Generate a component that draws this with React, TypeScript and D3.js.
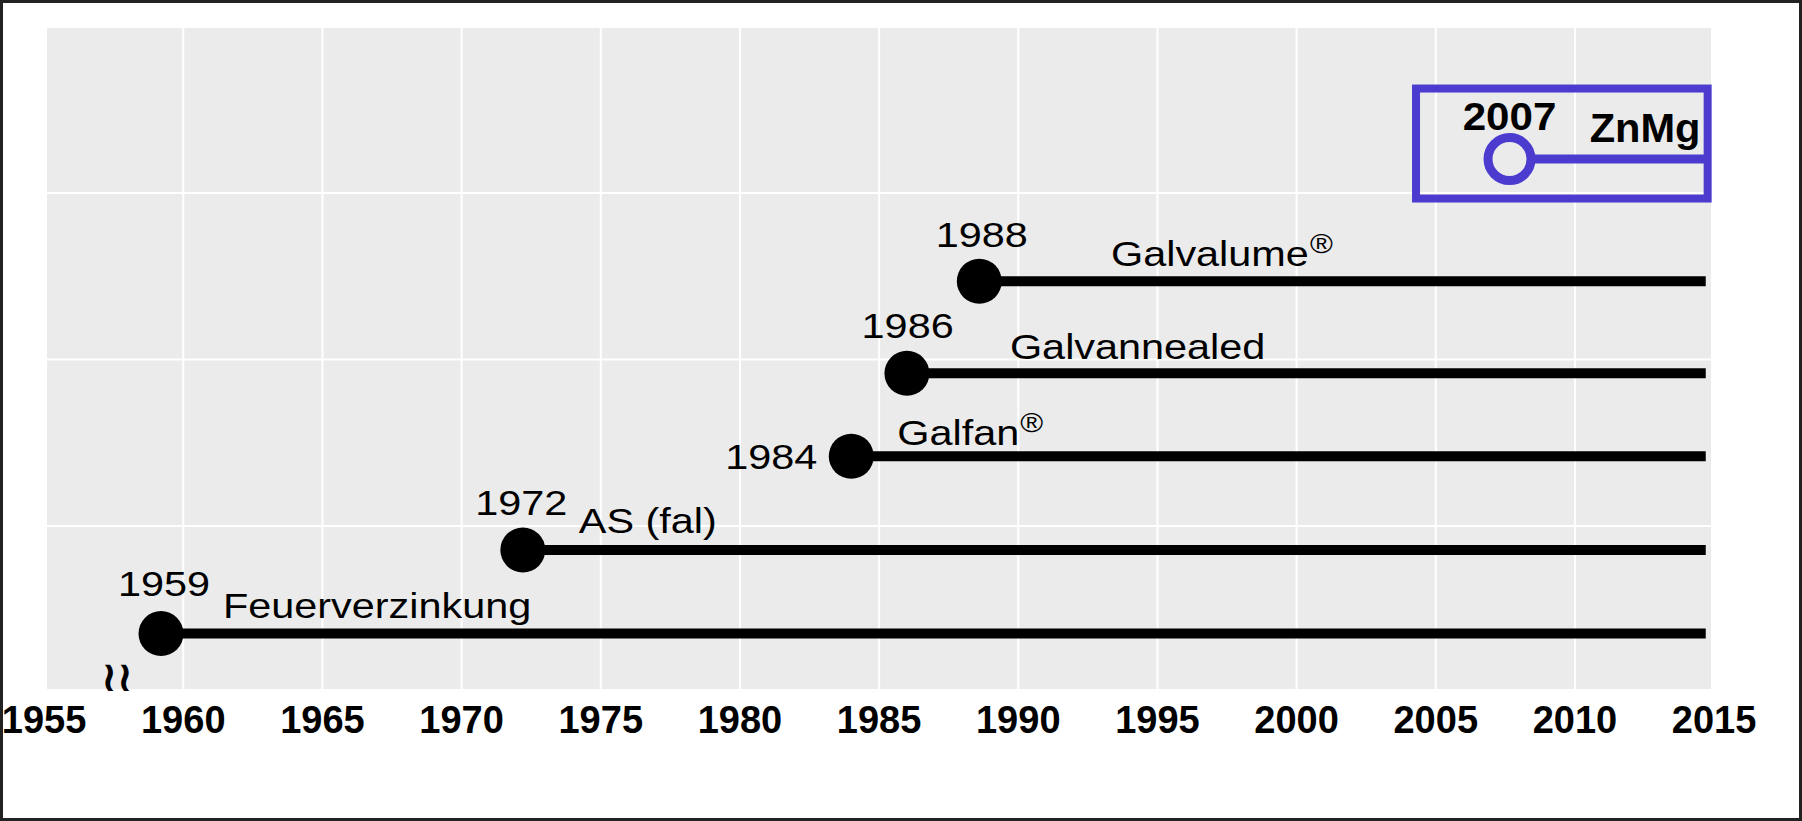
import React from "react";
import * as d3 from "d3";

// ---- data ----
const yearLabels = ["1959", "1972", "1984", "1986", "1988", "2007"];
const startYears = [1959.2, 1972.2, 1984.0, 1986.0, 1988.6, 2007.65];
const endYear = 2014.7;
const levels = [0.354, 0.856, 1.419, 1.917, 2.47, 3.204];
const coatings = ["Feuerverzinkung", "AS (fal)", "Galfan", "Galvannealed", "Galvalume", "ZnMg"];
const registered = [false, false, true, false, true, false];
const highlighted = [false, false, false, false, false, true];
const xTicks = [1955, 1960, 1965, 1970, 1975, 1980, 1985, 1990, 1995, 2000, 2005, 2010, 2015];
const yGrid = [1, 2, 3];

// label offsets relative to the dot (layout only)
const yearOffsets = [
  { dx: 3, dy: -37.5, anchor: "middle" },
  { dx: -1.5, dy: -35, anchor: "middle" },
  { dx: -34, dy: 13, anchor: "end" },
  { dx: 0.7, dy: -35, anchor: "middle" },
  { dx: 2.5, dy: -34.5, anchor: "middle" },
  { dx: 0, dy: -29.5, anchor: "middle" },
];
const nameOffsets = [
  { dx: 62, dy: -15.5, anchor: "start" },
  { dx: 56, dy: -17, anchor: "start" },
  { dx: 46, dy: -11, anchor: "start" },
  { dx: 103, dy: -14, anchor: "start" },
  { dx: 131.7, dy: -15, anchor: "start" },
  { dx: 191, dy: -17.5, anchor: "end" },
];

const W = 1802;
const H = 821;
const panel = { left: 47, right: 1711, top: 28, bottom: 689 };
const FONT = "'Liberation Sans', Arial, sans-serif";
const STRETCH = 1.15;
const PURPLE = "#4b3ccf";

export default function App() {
  const x = d3.scaleLinear().domain([1955, 2015]).range([44.1, 1714.1]);
  const y = d3.scaleLinear().domain([0, 4]).range([692.5, 26.5]);

  const rows = coatings.map((name, i) => ({
    name,
    year: yearLabels[i],
    cx: x(startYears[i]),
    cy: y(levels[i]),
    reg: registered[i],
    hl: highlighted[i],
    yo: yearOffsets[i],
    no: nameOffsets[i],
  }));

  const hl = rows.find(r => r.hl)!;

  return (
    <svg
      width={W}
      height={H}
      style={{ position: "absolute", left: 0, top: 0, background: "#fff" }}
      fontFamily={FONT}
    >
      <rect x={0} y={0} width={W} height={H} fill="#fff" />

      {/* panel */}
      <defs>
        <clipPath id="panelClip">
          <rect x={panel.left} y={panel.top} width={panel.right - panel.left} height={panel.bottom - panel.top} />
        </clipPath>
      </defs>
      <rect
        x={panel.left}
        y={panel.top}
        width={panel.right - panel.left}
        height={panel.bottom - panel.top}
        fill="#ebebeb"
      />
      <g clipPath="url(#panelClip)">
        {xTicks.map(t => (
          <line key={t} x1={x(t)} x2={x(t)} y1={panel.top} y2={panel.bottom} stroke="#fff" strokeWidth={2} />
        ))}
        {yGrid.map(t => (
          <line key={t} x1={panel.left} x2={panel.right} y1={y(t)} y2={y(t)} stroke="#fff" strokeWidth={2} />
        ))}
      </g>

      {/* segments */}
      {rows.map(r => (
        <line
          key={"s" + r.name}
          x1={r.cx}
          x2={x(endYear)}
          y1={r.cy}
          y2={r.cy}
          stroke={r.hl ? PURPLE : "#000"}
          strokeWidth={r.hl ? 9 : 10}
        />
      ))}

      {/* points */}
      {rows.map(r =>
        r.hl ? (
          <circle key={"p" + r.name} cx={r.cx} cy={r.cy} r={21.5} fill="#ebebeb" stroke={PURPLE} strokeWidth={9} />
        ) : (
          <circle key={"p" + r.name} cx={r.cx} cy={r.cy} r={22.5} fill="#000" />
        )
      )}

      {/* highlight box */}
      <rect
        x={hl.cx - 93.5}
        y={hl.cy - 70.5}
        width={x(endYear) + 1.9 - (hl.cx - 93.5)}
        height={110}
        fill="none"
        stroke={PURPLE}
        strokeWidth={8}
      />

      {/* year labels */}
      {rows.map(r =>
        r.hl ? (
          <text
            key={"y" + r.name}
            transform={`translate(${r.cx + r.yo.dx},${r.cy + r.yo.dy}) scale(1.08,1)`}
            textAnchor={r.yo.anchor}
            fontSize={39}
            fontWeight="bold"
          >
            {r.year}
          </text>
        ) : (
          <text
            key={"y" + r.name}
            transform={`translate(${r.cx + r.yo.dx},${r.cy + r.yo.dy}) scale(${STRETCH},1)`}
            textAnchor={r.yo.anchor}
            fontSize={36}
          >
            {r.year}
          </text>
        )
      )}

      {/* coating names */}
      {rows.map(r =>
        r.hl ? (
          <text
            key={"n" + r.name}
            transform={`translate(${r.cx + r.no.dx},${r.cy + r.no.dy}) scale(1.04,1)`}
            textAnchor={r.no.anchor}
            fontSize={40}
            fontWeight="bold"
          >
            {r.name}
          </text>
        ) : (
          <text
            key={"n" + r.name}
            transform={`translate(${r.cx + r.no.dx},${r.cy + r.no.dy}) scale(${STRETCH},1)`}
            textAnchor={r.no.anchor}
            fontSize={36}
          >
            {r.name}
            {r.reg && (
              <tspan fontSize={27} dx={1} dy={-13}>
                ®
              </tspan>
            )}
          </text>
        )
      )}

      {/* axis break mark */}
      <text x={117} y={691} textAnchor="middle" fontSize={42} fontFamily="'DejaVu Sans', sans-serif" fontWeight="bold">
        ≀≀
      </text>

      {/* x axis tick labels */}
      {xTicks.map(t => (
        <text key={"t" + t} x={x(t)} y={733} textAnchor="middle" fontSize={38} fontWeight="bold">
          {t}
        </text>
      ))}

      {/* outer frame */}
      <rect x={1.5} y={1.5} width={W - 3} height={H - 3} fill="none" stroke="#222" strokeWidth={3} />
    </svg>
  );
}
